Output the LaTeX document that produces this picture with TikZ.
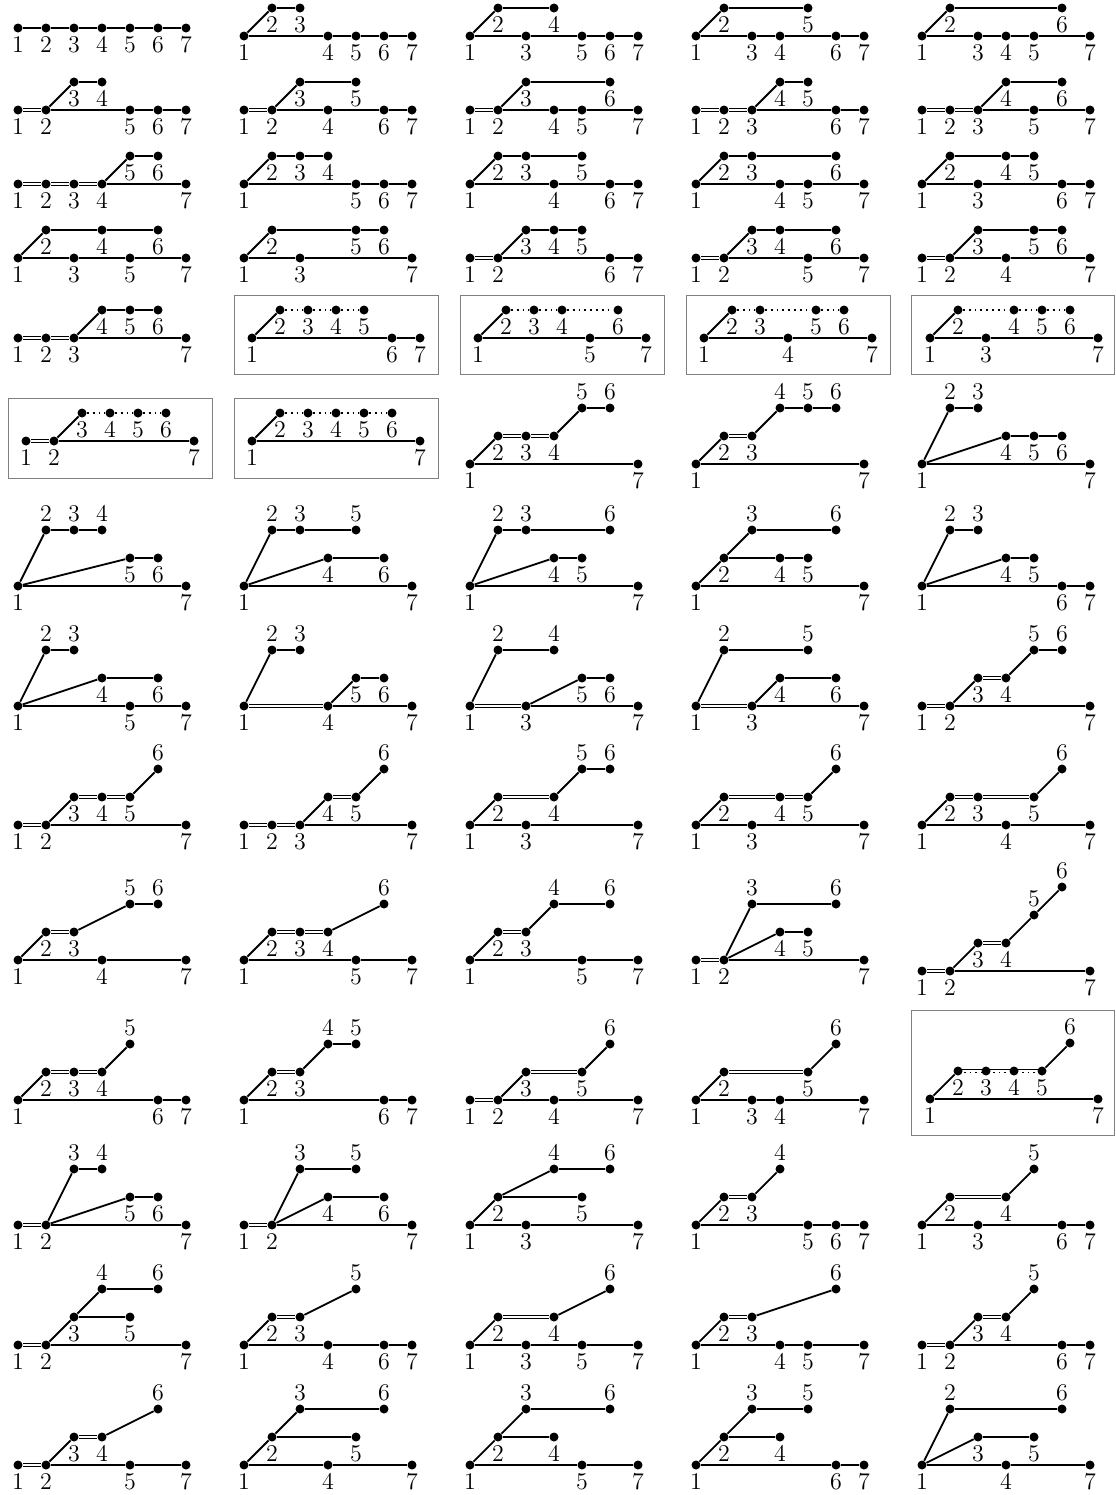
\documentclass[tikz,border=0pt]{standalone}
\usepackage{tikz}
\tikzset{
  vtx/.style = {circle, fill=black, inner sep=0pt, minimum size=4.5pt},
  lbl/.style = {inner sep=1.5pt, font=\large},
  sl/.style  = {draw=black, line width=0.9pt},
  dl/.style  = {draw=black, line width=0.6pt, double=white, double distance=1.1pt},
  ol/.style  = {draw=black, line width=0.9pt, dotted},
  frm/.style = {draw=gray, line width=0.5pt},
}
% one chain of seven points: name, x of point 1, y of level 0, levels (9 = no point)
\newcommand{\drawchain}[4]{%
  \foreach \lv [count=\k] in {#4} {
    \ifnum\lv=9 \else
    \ifnum\lv>1
      \node[vtx, label={[lbl]above:\k}] (#1-\k) at ({#2+28*(\k-1)},{#3-28*\lv}) {};
    \else
      \node[vtx, label={[lbl]below:\k}] (#1-\k) at ({#2+28*(\k-1)},{#3-28*\lv}) {};
    \fi\fi
  }}
\newcommand{\drawlinks}[2]{%
  \foreach \a/\b/\st in {#2} {\draw[\st] (#1-\a) -- (#1-\b);}}

\begin{document}
\begin{tikzpicture}[x=0.5pt, y=-0.5pt]
  \useasboundingbox (0,0) rectangle (1115,1495);
  % row 1
  \drawchain{p1}{18}{28}{0,0,0,0,0,0,0}
  \drawlinks{p1}{1/2/sl,2/3/sl,3/4/sl,4/5/sl,5/6/sl,6/7/sl}
  \drawchain{p2}{244}{36}{0,1,1,0,0,0,0}
  \drawlinks{p2}{1/2/sl,2/3/sl,1/4/sl,4/5/sl,5/6/sl,6/7/sl}
  \drawchain{p3}{470}{36}{0,1,0,1,0,0,0}
  \drawlinks{p3}{1/2/sl,2/4/sl,1/3/sl,3/5/sl,5/6/sl,6/7/sl}
  \drawchain{p4}{696}{36}{0,1,0,0,1,0,0}
  \drawlinks{p4}{1/2/sl,2/5/sl,1/3/sl,3/4/sl,4/6/sl,6/7/sl}
  \drawchain{p5}{922}{36}{0,1,0,0,0,1,0}
  \drawlinks{p5}{1/2/sl,2/6/sl,1/3/sl,3/4/sl,4/5/sl,5/7/sl}
  % row 2
  \drawchain{p6}{18}{110}{0,0,1,1,0,0,0}
  \drawlinks{p6}{1/2/dl,2/3/sl,3/4/sl,2/5/sl,5/6/sl,6/7/sl}
  \drawchain{p7}{244}{110}{0,0,1,0,1,0,0}
  \drawlinks{p7}{1/2/dl,2/3/sl,3/5/sl,2/4/sl,4/6/sl,6/7/sl}
  \drawchain{p8}{470}{110}{0,0,1,0,0,1,0}
  \drawlinks{p8}{1/2/dl,2/3/sl,3/6/sl,2/4/sl,4/5/sl,5/7/sl}
  \drawchain{p9}{696}{110}{0,0,0,1,1,0,0}
  \drawlinks{p9}{1/2/dl,2/3/dl,3/4/sl,4/5/sl,3/6/sl,6/7/sl}
  \drawchain{p10}{922}{110}{0,0,0,1,0,1,0}
  \drawlinks{p10}{1/2/dl,2/3/dl,3/4/sl,4/6/sl,3/5/sl,5/7/sl}
  % row 3
  \drawchain{p11}{18}{184}{0,0,0,0,1,1,0}
  \drawlinks{p11}{1/2/dl,2/3/dl,3/4/dl,4/5/sl,5/6/sl,4/7/sl}
  \drawchain{p12}{244}{184}{0,1,1,1,0,0,0}
  \drawlinks{p12}{1/2/sl,2/3/sl,3/4/sl,1/5/sl,5/6/sl,6/7/sl}
  \drawchain{p13}{470}{184}{0,1,1,0,1,0,0}
  \drawlinks{p13}{1/2/sl,2/3/sl,3/5/sl,1/4/sl,4/6/sl,6/7/sl}
  \drawchain{p14}{696}{184}{0,1,1,0,0,1,0}
  \drawlinks{p14}{1/2/sl,2/3/sl,3/6/sl,1/4/sl,4/5/sl,5/7/sl}
  \drawchain{p15}{922}{184}{0,1,0,1,1,0,0}
  \drawlinks{p15}{1/2/sl,2/4/sl,4/5/sl,1/3/sl,3/6/sl,6/7/sl}
  % row 4
  \drawchain{p16}{18}{258}{0,1,0,1,0,1,0}
  \drawlinks{p16}{1/2/sl,2/4/sl,4/6/sl,1/3/sl,3/5/sl,5/7/sl}
  \drawchain{p17}{244}{258}{0,1,0,9,1,1,0}
  \drawlinks{p17}{1/2/sl,2/5/sl,5/6/sl,1/3/sl,3/7/sl}
  \drawchain{p18}{470}{258}{0,0,1,1,1,0,0}
  \drawlinks{p18}{1/2/dl,2/3/sl,3/4/sl,4/5/sl,2/6/sl,6/7/sl}
  \drawchain{p19}{696}{258}{0,0,1,1,0,1,0}
  \drawlinks{p19}{1/2/dl,2/3/sl,3/4/sl,4/6/sl,2/5/sl,5/7/sl}
  \drawchain{p20}{922}{258}{0,0,1,0,1,1,0}
  \drawlinks{p20}{1/2/dl,2/3/sl,3/5/sl,5/6/sl,2/4/sl,4/7/sl}
  % row 5
  \drawchain{p21}{18}{338}{0,0,0,1,1,1,0}
  \drawlinks{p21}{1/2/dl,2/3/dl,3/4/sl,4/5/sl,5/6/sl,3/7/sl}
  \draw[frm] (234,295) rectangle (438,374);
  \drawchain{p22}{252}{338}{0,1,1,1,1,0,0}
  \drawlinks{p22}{1/2/sl,2/3/ol,3/4/ol,4/5/ol,1/6/sl,6/7/sl}
  \draw[frm] (460,295) rectangle (664,374);
  \drawchain{p23}{478}{338}{0,1,1,1,0,1,0}
  \drawlinks{p23}{1/2/sl,2/3/ol,3/4/ol,4/6/ol,1/5/sl,5/7/sl}
  \draw[frm] (686,295) rectangle (890,374);
  \drawchain{p24}{704}{338}{0,1,1,0,1,1,0}
  \drawlinks{p24}{1/2/sl,2/3/ol,3/5/ol,5/6/ol,1/4/sl,4/7/sl}
  \draw[frm] (911,295) rectangle (1114,374);
  \drawchain{p25}{930}{338}{0,1,0,1,1,1,0}
  \drawlinks{p25}{1/2/sl,2/4/ol,4/5/ol,5/6/ol,1/3/sl,3/7/sl}
  % row 6
  \draw[frm] (8,398) rectangle (212,478);
  \drawchain{p26}{26}{441}{0,0,1,1,1,1,0}
  \drawlinks{p26}{1/2/dl,2/3/sl,3/4/ol,4/5/ol,5/6/ol,2/7/sl}
  \draw[frm] (234,398) rectangle (438,478);
  \drawchain{p27}{252}{441}{0,1,1,1,1,1,0}
  \drawlinks{p27}{1/2/sl,2/3/ol,3/4/ol,4/5/ol,5/6/ol,1/7/sl}
  \drawchain{p28}{470}{464}{0,1,1,1,2,2,0}
  \drawlinks{p28}{1/2/sl,2/3/dl,3/4/dl,4/5/sl,5/6/sl,1/7/sl}
  \drawchain{p29}{696}{464}{0,1,1,2,2,2,0}
  \drawlinks{p29}{1/2/sl,2/3/dl,3/4/sl,4/5/sl,5/6/sl,1/7/sl}
  \drawchain{p30}{922}{464}{0,2,2,1,1,1,0}
  \drawlinks{p30}{1/2/sl,2/3/sl,1/4/sl,4/5/sl,5/6/sl,1/7/sl}
  % row 7
  \drawchain{p31}{18}{586}{0,2,2,2,1,1,0}
  \drawlinks{p31}{1/2/sl,2/3/sl,3/4/sl,1/5/sl,5/6/sl,1/7/sl}
  \drawchain{p32}{244}{586}{0,2,2,1,2,1,0}
  \drawlinks{p32}{1/2/sl,2/3/sl,3/5/sl,1/4/sl,4/6/sl,1/7/sl}
  \drawchain{p33}{470}{586}{0,2,2,1,1,2,0}
  \drawlinks{p33}{1/2/sl,2/3/sl,3/6/sl,1/4/sl,4/5/sl,1/7/sl}
  \drawchain{p34}{696}{586}{0,1,2,1,1,2,0}
  \drawlinks{p34}{1/2/sl,2/3/sl,3/6/sl,2/4/sl,4/5/sl,1/7/sl}
  \drawchain{p35}{922}{586}{0,2,2,1,1,0,0}
  \drawlinks{p35}{1/2/sl,2/3/sl,1/4/sl,4/5/sl,1/6/sl,6/7/sl}
  % row 8
  \drawchain{p36}{18}{706}{0,2,2,1,0,1,0}
  \drawlinks{p36}{1/2/sl,2/3/sl,1/4/sl,4/6/sl,1/5/sl,5/7/sl}
  \drawchain{p37}{244}{706}{0,2,2,0,1,1,0}
  \drawlinks{p37}{1/2/sl,2/3/sl,1/4/dl,4/5/sl,5/6/sl,4/7/sl}
  \drawchain{p38}{470}{706}{0,2,0,2,1,1,0}
  \drawlinks{p38}{1/2/sl,2/4/sl,1/3/dl,3/5/sl,5/6/sl,3/7/sl}
  \drawchain{p39}{696}{706}{0,2,0,1,2,1,0}
  \drawlinks{p39}{1/2/sl,2/5/sl,1/3/dl,3/4/sl,4/6/sl,3/7/sl}
  \drawchain{p40}{922}{706}{0,0,1,1,2,2,0}
  \drawlinks{p40}{1/2/dl,2/3/sl,3/4/dl,4/5/sl,5/6/sl,2/7/sl}
  % row 9
  \drawchain{p41}{18}{825}{0,0,1,1,1,2,0}
  \drawlinks{p41}{1/2/dl,2/3/sl,3/4/dl,4/5/dl,5/6/sl,2/7/sl}
  \drawchain{p42}{244}{825}{0,0,0,1,1,2,0}
  \drawlinks{p42}{1/2/dl,2/3/dl,3/4/sl,4/5/dl,5/6/sl,3/7/sl}
  \drawchain{p43}{470}{825}{0,1,0,1,2,2,0}
  \drawlinks{p43}{1/2/sl,2/4/dl,4/5/sl,5/6/sl,1/3/sl,3/7/sl}
  \drawchain{p44}{696}{825}{0,1,0,1,1,2,0}
  \drawlinks{p44}{1/2/sl,2/4/dl,4/5/dl,5/6/sl,1/3/sl,3/7/sl}
  \drawchain{p45}{922}{825}{0,1,1,0,1,2,0}
  \drawlinks{p45}{1/2/sl,2/3/dl,3/5/dl,5/6/sl,1/4/sl,4/7/sl}
  % row 10
  \drawchain{p46}{18}{960}{0,1,1,0,2,2,0}
  \drawlinks{p46}{1/2/sl,2/3/dl,3/5/sl,5/6/sl,1/4/sl,4/7/sl}
  \drawchain{p47}{244}{960}{0,1,1,1,0,2,0}
  \drawlinks{p47}{1/2/sl,2/3/dl,3/4/dl,4/6/sl,1/5/sl,5/7/sl}
  \drawchain{p48}{470}{960}{0,1,1,2,0,2,0}
  \drawlinks{p48}{1/2/sl,2/3/dl,3/4/sl,4/6/sl,1/5/sl,5/7/sl}
  \drawchain{p49}{696}{960}{0,0,2,1,1,2,0}
  \drawlinks{p49}{1/2/dl,2/3/sl,3/6/sl,2/4/sl,4/5/sl,2/7/sl}
  \drawchain{p50}{922}{971}{0,0,1,1,2,3,0}
  \drawlinks{p50}{1/2/dl,2/3/sl,3/4/dl,4/5/sl,5/6/sl,2/7/sl}
  % row 11
  \drawchain{p51}{18}{1100}{0,1,1,1,2,0,0}
  \drawlinks{p51}{1/2/sl,2/3/dl,3/4/dl,4/5/sl,1/6/sl,6/7/sl}
  \drawchain{p52}{244}{1100}{0,1,1,2,2,0,0}
  \drawlinks{p52}{1/2/sl,2/3/dl,3/4/sl,4/5/sl,1/6/sl,6/7/sl}
  \drawchain{p53}{470}{1100}{0,0,1,0,1,2,0}
  \drawlinks{p53}{1/2/dl,2/3/sl,3/5/dl,5/6/sl,2/4/sl,4/7/sl}
  \drawchain{p54}{696}{1100}{0,1,0,0,1,2,0}
  \drawlinks{p54}{1/2/sl,2/5/dl,5/6/sl,1/3/sl,3/4/sl,4/7/sl}
  \draw[frm] (911,1010) rectangle (1114,1135);
  \drawchain{p55}{930}{1099}{0,1,1,1,1,2,0}
  \drawlinks{p55}{1/2/sl,5/6/sl,1/7/sl}
  \draw[sl, line width=0.6pt] ([yshift=0.8pt]p55-2.center) -- ([yshift=0.8pt]p55-5.center);
  \draw[ol, line width=0.6pt] ([yshift=-0.9pt]p55-2.center) -- ([yshift=-0.9pt]p55-5.center);
  % row 12
  \drawchain{p56}{18}{1225}{0,0,2,2,1,1,0}
  \drawlinks{p56}{1/2/dl,2/3/sl,3/4/sl,2/5/sl,5/6/sl,2/7/sl}
  \drawchain{p57}{244}{1225}{0,0,2,1,2,1,0}
  \drawlinks{p57}{1/2/dl,2/3/sl,3/5/sl,2/4/sl,4/6/sl,2/7/sl}
  \drawchain{p58}{470}{1225}{0,1,0,2,1,2,0}
  \drawlinks{p58}{1/2/sl,2/4/sl,4/6/sl,2/5/sl,1/3/sl,3/7/sl}
  \drawchain{p59}{696}{1225}{0,1,1,2,0,0,0}
  \drawlinks{p59}{1/2/sl,2/3/dl,3/4/sl,1/5/sl,5/6/sl,6/7/sl}
  \drawchain{p60}{922}{1225}{0,1,0,1,2,0,0}
  \drawlinks{p60}{1/2/sl,2/4/dl,4/5/sl,1/3/sl,3/6/sl,6/7/sl}
  % row 13
  \drawchain{p61}{18}{1345}{0,0,1,2,1,2,0}
  \drawlinks{p61}{1/2/dl,2/3/sl,3/4/sl,4/6/sl,3/5/sl,2/7/sl}
  \drawchain{p62}{244}{1345}{0,1,1,0,2,0,0}
  \drawlinks{p62}{1/2/sl,2/3/dl,3/5/sl,1/4/sl,4/6/sl,6/7/sl}
  \drawchain{p63}{470}{1345}{0,1,0,1,0,2,0}
  \drawlinks{p63}{1/2/sl,2/4/dl,4/6/sl,1/3/sl,3/5/sl,5/7/sl}
  \drawchain{p64}{696}{1345}{0,1,1,0,0,2,0}
  \drawlinks{p64}{1/2/sl,2/3/dl,3/6/sl,1/4/sl,4/5/sl,5/7/sl}
  \drawchain{p65}{922}{1345}{0,0,1,1,2,0,0}
  \drawlinks{p65}{1/2/dl,2/3/sl,3/4/dl,4/5/sl,2/6/sl,6/7/sl}
  % row 14
  \drawchain{p66}{18}{1465}{0,0,1,1,0,2,0}
  \drawlinks{p66}{1/2/dl,2/3/sl,3/4/dl,4/6/sl,2/5/sl,5/7/sl}
  \drawchain{p67}{244}{1465}{0,1,2,0,1,2,0}
  \drawlinks{p67}{1/2/sl,2/3/sl,3/6/sl,2/5/sl,1/4/sl,4/7/sl}
  \drawchain{p68}{470}{1465}{0,1,2,1,0,2,0}
  \drawlinks{p68}{1/2/sl,2/3/sl,3/6/sl,2/4/sl,1/5/sl,5/7/sl}
  \drawchain{p69}{696}{1465}{0,1,2,1,2,0,0}
  \drawlinks{p69}{1/2/sl,2/3/sl,3/5/sl,2/4/sl,1/6/sl,6/7/sl}
  \drawchain{p70}{922}{1465}{0,2,1,0,1,2,0}
  \drawlinks{p70}{1/2/sl,2/6/sl,1/3/sl,3/5/sl,1/4/sl,4/7/sl}
\end{tikzpicture}
\end{document}
